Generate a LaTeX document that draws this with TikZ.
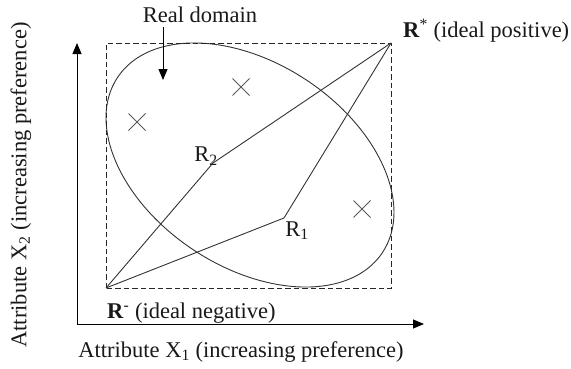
\documentclass[tikz,border=0pt]{standalone}
\usepackage{fontspec}
\setmainfont{Liberation Serif}
\usetikzlibrary{arrows.meta}
\begin{document}
\begin{tikzpicture}[x=1pt,y=1pt,
  every node/.style={font=\fontsize{22.5}{26}\selectfont, inner sep=0pt, text=black!90},
  ln/.style={draw=black!80, line width=0.9pt},
  axis/.style={draw=black, line width=1pt, -{Triangle[length=11pt,width=9pt]}},
  dashbox/.style={draw=black!85, line width=0.9pt, dash pattern=on 5.5pt off 3pt},
  crossmark/.style={draw=black!65, line width=0.8pt}]
\useasboundingbox (0,0) rectangle (571,368);
% key points
\coordinate (O) at (77,44);
\coordinate (Ytop) at (77,325);
\coordinate (Xend) at (424,44);
\coordinate (Rm) at (106,80);
\coordinate (Rs) at (391,325);
\coordinate (R2) at (213,205);
\coordinate (R1) at (284,150);
\coordinate (C) at (250,203);
% ellipse (real domain)
\draw[ln, rotate around={-33.4:(C)}] (C) ellipse (158.8 and 102);
% dashed box
\draw[dashbox] (Rm) rectangle (Rs);
% axes
\draw[axis] (O) -- (Ytop);
\draw[axis] (O) -- (Xend);
% paths
\draw[ln] (Rm) -- (R2) -- (Rs);
\draw[ln] (Rm) -- (R1) -- (Rs);
% crosses
\foreach \p in {(137,246),(241,281),(362,159)}{
  \draw[crossmark] \p ++(-8.5,-8.5) -- ++(17,17);
  \draw[crossmark] \p ++(-8.5,8.5) -- ++(17,-17);
}
% labels
\node (rd) at (200,353) {Real domain};
\coordinate (rdtip) at (163,288);
\draw[draw=black, line width=1pt, -{Triangle[length=11pt,width=9pt]}] (163,341) -- (rdtip);
\node[anchor=base west] (lRs) at (403,331) {\textbf{R}\textsuperscript{*} (ideal positive)};
\node[anchor=base west] (lRm) at (107,50) {\textbf{R}\textsuperscript{-} (ideal negative)};
\node (lR2) at (206,212) {R\textsubscript{2}};
\node (lR1) at (297,137) {R\textsubscript{1}};
\node[anchor=base] (xl) at (241,11) {Attribute X\textsubscript{1} (increasing preference)};
\node[rotate=90] (yl) at (21,183) {Attribute X\textsubscript{2} (increasing preference)};
\end{tikzpicture}
\end{document}
